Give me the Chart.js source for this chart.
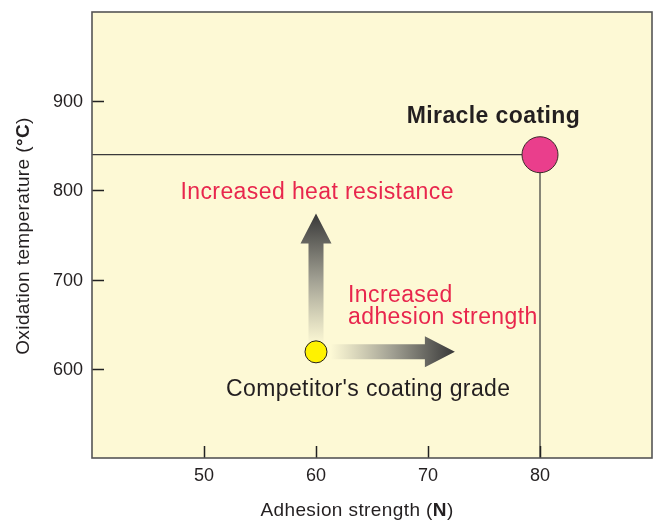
<!DOCTYPE html>
<html>
<head>
<meta charset="utf-8">
<script src="https://cdn.jsdelivr.net/npm/chart.js@4"></script>
<style>
  body { margin: 0; background: #fff; }
  canvas { display: block; }
</style>
</head>
<body>
<canvas id="chart" width="653" height="520"></canvas>
<script>
// 軸の目盛り
const xTicks = [50, 60, 70, 80];
const yTicks = [600, 700, 800, 900];

// 点のデータ (密着力 N, 酸化温度 ℃)
const competitorPoint = [{ x: 60, y: 619 }];
const miraclePoint = [{ x: 80, y: 840 }];

// 矢印 (始点 → 終点)
const heatArrow = [{ x: 60, y: 627 }, { x: 60, y: 774 }];
const adhesionArrow = [{ x: 61.3, y: 619 }, { x: 72.4, y: 619 }];

// 注釈テキスト (左端・ベースライン)
const labels = [
  { text: "Miracle coating", x: 68.1, y: 875.6, color: "#231f20", bold: true },
  { text: "Increased heat resistance", x: 47.9, y: 790.4, color: "#e8264d" },
  { text: "Increased", x: 62.86, y: 674.9, color: "#e8264d" },
  { text: "adhesion strength", x: 62.86, y: 650.2, color: "#e8264d" },
  { text: "Competitor's coating grade", x: 51.96, y: 569.5, color: "#231f20" }
];

const FONT = "Arial, 'Liberation Sans', Helvetica, sans-serif";

// 背景・枠・内向き目盛り・矢印・テキスト
const decor = {
  id: "decor",
  beforeDatasetsDraw(chart) {
    const { ctx, chartArea: a, scales: { x, y } } = chart;
    ctx.save();
    ctx.fillStyle = "#fdf9d5";
    ctx.fillRect(a.left, a.top, a.width, a.height);

    // 基準線
    const mx = x.getPixelForValue(miraclePoint[0].x);
    const my = y.getPixelForValue(miraclePoint[0].y);
    ctx.strokeStyle = "#3a3a3a";
    ctx.lineWidth = 1.2;
    ctx.beginPath();
    ctx.moveTo(a.left, my); ctx.lineTo(mx, my);
    ctx.moveTo(mx, my); ctx.lineTo(mx, a.bottom);
    ctx.stroke();

    // 目盛り
    ctx.strokeStyle = "#222";
    ctx.lineWidth = 1.5;
    ctx.beginPath();
    xTicks.forEach(v => {
      const px = Math.round(x.getPixelForValue(v)) + 0.5;
      ctx.moveTo(px, a.bottom); ctx.lineTo(px, a.bottom - 12);
    });
    yTicks.forEach(v => {
      const py = Math.round(y.getPixelForValue(v)) + 0.5;
      ctx.moveTo(a.left, py); ctx.lineTo(a.left + 12, py);
    });
    ctx.stroke();

    // 矢印
    drawArrow(ctx, x, y, heatArrow);
    drawArrow(ctx, x, y, adhesionArrow);

    // 枠
    ctx.strokeStyle = "#555";
    ctx.lineWidth = 1.6;
    ctx.strokeRect(a.left, a.top, a.width, a.height);
    ctx.restore();
  },
  afterDatasetsDraw(chart) {
    const { ctx, chartArea: a, scales: { x, y } } = chart;
    ctx.save();
    ctx.textBaseline = "alphabetic";
    ctx.textAlign = "left";
    labels.forEach(l => {
      ctx.font = (l.bold ? "bold " : "") + "23px " + FONT;
      ctx.letterSpacing = "0.4px";
      ctx.fillStyle = l.color;
      ctx.fillText(l.text, x.getPixelForValue(l.x), y.getPixelForValue(l.y));
    });
    ctx.letterSpacing = "0px";

    // 目盛りラベル
    ctx.textBaseline = "middle";
    ctx.fillStyle = "#231f20";
    ctx.font = "18px " + FONT;
    ctx.textAlign = "center";
    xTicks.forEach(v => ctx.fillText(String(v), x.getPixelForValue(v), a.bottom + 18));
    ctx.textAlign = "right";
    yTicks.forEach(v => ctx.fillText(String(v), a.left - 9, y.getPixelForValue(v) + 1));

    // 軸タイトル (単位だけ太字)
    ctx.letterSpacing = "0.4px";
    drawMixed(ctx, 357, 511, "Adhesion strength (", "N", ")");
    ctx.save();
    ctx.translate(24, 236);
    ctx.rotate(-Math.PI / 2);
    drawMixed(ctx, 0, 0, "Oxidation temperature (", "°C", ")");
    ctx.restore();
    ctx.restore();
  }
};

function drawMixed(ctx, cx, cy, a, b, c) {
  const normal = "19px " + FONT, bold = "bold 19px " + FONT;
  ctx.font = normal; const wa = ctx.measureText(a).width, wc = ctx.measureText(c).width;
  ctx.font = bold; const wb = ctx.measureText(b).width;
  let px = cx - (wa + wb + wc) / 2;
  ctx.textAlign = "left";
  ctx.textBaseline = "middle";
  ctx.fillStyle = "#231f20";
  ctx.font = normal; ctx.fillText(a, px, cy); px += wa;
  ctx.font = bold; ctx.fillText(b, px, cy); px += wb;
  ctx.font = normal; ctx.fillText(c, px, cy);
}

function drawArrow(ctx, x, y, pts) {
  const x0 = x.getPixelForValue(pts[0].x), y0 = y.getPixelForValue(pts[0].y);
  const x1 = x.getPixelForValue(pts[1].x), y1 = y.getPixelForValue(pts[1].y);
  const len = Math.hypot(x1 - x0, y1 - y0);
  const ang = Math.atan2(y1 - y0, x1 - x0);
  const shaft = 7.5, head = 15.5, headLen = 30;
  ctx.save();
  ctx.translate(x0, y0);
  ctx.rotate(ang);
  const g = ctx.createLinearGradient(0, 0, len, 0);
  g.addColorStop(0, "rgba(253,249,213,0.9)");
  g.addColorStop(0.5, "#a09f92");
  g.addColorStop(1, "#383838");
  ctx.fillStyle = g;
  ctx.beginPath();
  ctx.moveTo(0, -shaft);
  ctx.lineTo(len - headLen, -shaft);
  ctx.lineTo(len - headLen, -head);
  ctx.lineTo(len, 0);
  ctx.lineTo(len - headLen, head);
  ctx.lineTo(len - headLen, shaft);
  ctx.lineTo(0, shaft);
  ctx.closePath();
  ctx.fill();
  ctx.restore();
}

new Chart(document.getElementById("chart"), {
  type: "scatter",
  data: {
    datasets: [
      {
        label: "Competitor's coating grade",
        data: competitorPoint,
        backgroundColor: "#fff200",
        borderColor: "#231f20",
        borderWidth: 1,
        pointRadius: 11
      },
      {
        label: "Miracle coating",
        data: miraclePoint,
        backgroundColor: "#ea3e8c",
        borderColor: "#3a2a2a",
        borderWidth: 1,
        pointRadius: 18
      }
    ]
  },
  options: {
    responsive: false,
    animation: false,
    layout: { autoPadding: false, padding: { top: 12, right: 1, left: 0, bottom: 0 } },
    plugins: { legend: { display: false }, tooltip: { enabled: false } },
    scales: {
      x: {
        min: 40, max: 90,
        grid: { display: false },
        border: { display: false },
        ticks: { display: false },
        afterFit(s) { s.height = 62; }
      },
      y: {
        min: 500, max: 1000,
        grid: { display: false },
        border: { display: false },
        ticks: { display: false },
        afterFit(s) { s.width = 92; }
      }
    }
  },
  plugins: [decor]
});
</script>
</body>
</html>
